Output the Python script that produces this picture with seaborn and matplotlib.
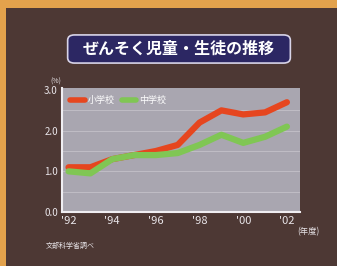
import pandas as pd
import matplotlib.pyplot as plt
import matplotlib.patches as mpatches
import seaborn as sns

# data (%)
years = [1992, 1993, 1994, 1995, 1996, 1997, 1998, 1999, 2000, 2001, 2002]
elementary = [1.1, 1.1, 1.3, 1.4, 1.5, 1.65, 2.2, 2.5, 2.4, 2.45, 2.7]
junior_high = [1.0, 0.95, 1.3, 1.4, 1.4, 1.45, 1.65, 1.9, 1.7, 1.85, 2.1]
series_names = ["小学校", "中学校"]
tick_years = [1992, 1994, 1996, 1998, 2000, 2002]
tick_labels = ["'92", "'94", "'96", "'98", "'00", "'02"]
y_ticks = [0.0, 1.0, 2.0, 3.0]

df = pd.DataFrame({
    "year": years * 2,
    "value": elementary + junior_high,
    "school": [series_names[0]] * len(years) + [series_names[1]] * len(years),
})

sns.set_style("white")
plt.rcParams["font.family"] = ["Noto Sans CJK JP", "DejaVu Sans"]

W, H = 337, 266
fig = plt.figure(figsize=(W / 100, H / 100), dpi=100)
fig.patch.set_facecolor("#e3a24c")
# dark brown panel inside the orange frame
fig.add_artist(mpatches.Rectangle((6 / W, 0), 1, 1 - 8 / H, transform=fig.transFigure,
                                  facecolor="#4d3834", edgecolor="none", zorder=0))

# title box
fig.add_artist(mpatches.FancyBboxPatch((69 / W, 1 - 62 / H), 220 / W, 26 / H,
                                       boxstyle="round,pad=0.004,rounding_size=0.02",
                                       transform=fig.transFigure, facecolor="#2c2763",
                                       edgecolor="#d8d4e8", linewidth=1.2, zorder=1))
fig.text(179 / W, 1 - 49 / H, "ぜんそく児童・生徒の推移", ha="center", va="center",
         color="white", fontsize=11.5, fontweight="bold", zorder=2)

ax = fig.add_axes([62 / W, 54 / H, 238 / W, 124 / H])
ax.set_facecolor("#a9a6b0")

palette = {series_names[0]: "#e6461f", series_names[1]: "#80c654"}
sns.lineplot(data=df, x="year", y="value", hue="school", palette=palette,
             linewidth=4.5, ax=ax, legend=False)
for line in ax.get_lines():
    line.set_solid_capstyle("round")
    line.set_solid_joinstyle("round")

ax.set_xlim(1991.7, 2002.6)
ax.set_ylim(0, 3.05)
ax.set_yticks(y_ticks)
ax.set_yticklabels([f"{v:.1f}" for v in y_ticks], color="#e8e4e8", fontsize=7)
ax.set_xticks(tick_years)
ax.set_xticklabels(tick_labels, color="#e8e4e8", fontsize=8)
ax.tick_params(length=0, pad=3)
ax.set_xlabel("")
ax.set_ylabel("")
for y in [0.5, 1.0, 1.5, 2.0, 2.5]:
    ax.axhline(y, color="#c4c1c9", linewidth=0.6, zorder=0)
for side in ["top", "right"]:
    ax.spines[side].set_visible(False)
for side in ["left", "bottom"]:
    ax.spines[side].set_color("#f0eef2")
    ax.spines[side].set_linewidth(1.5)

# legend
handles = [plt.Line2D([0], [0], color=palette[n], linewidth=4) for n in series_names]
leg = ax.legend(handles, series_names, loc="upper left", ncol=2, frameon=False,
                fontsize=6.5, handlelength=1.6, columnspacing=0.8, handletextpad=0.3,
                bbox_to_anchor=(0.0, 1.0))
for t in leg.get_texts():
    t.set_color("white")

fig.text(50 / W, 1 - 84 / H, "(%)", color="#e8e4e8", fontsize=5)
fig.text(297 / W, 1 - 232 / H, "(年度)", color="#e8e4e8", fontsize=6, va="center")
fig.text(46 / W, 1 - 246 / H, "文部科学省調べ", color="#e8e4e8", fontsize=5, va="center")

fig.savefig("out.png", dpi=100, facecolor=fig.get_facecolor())
